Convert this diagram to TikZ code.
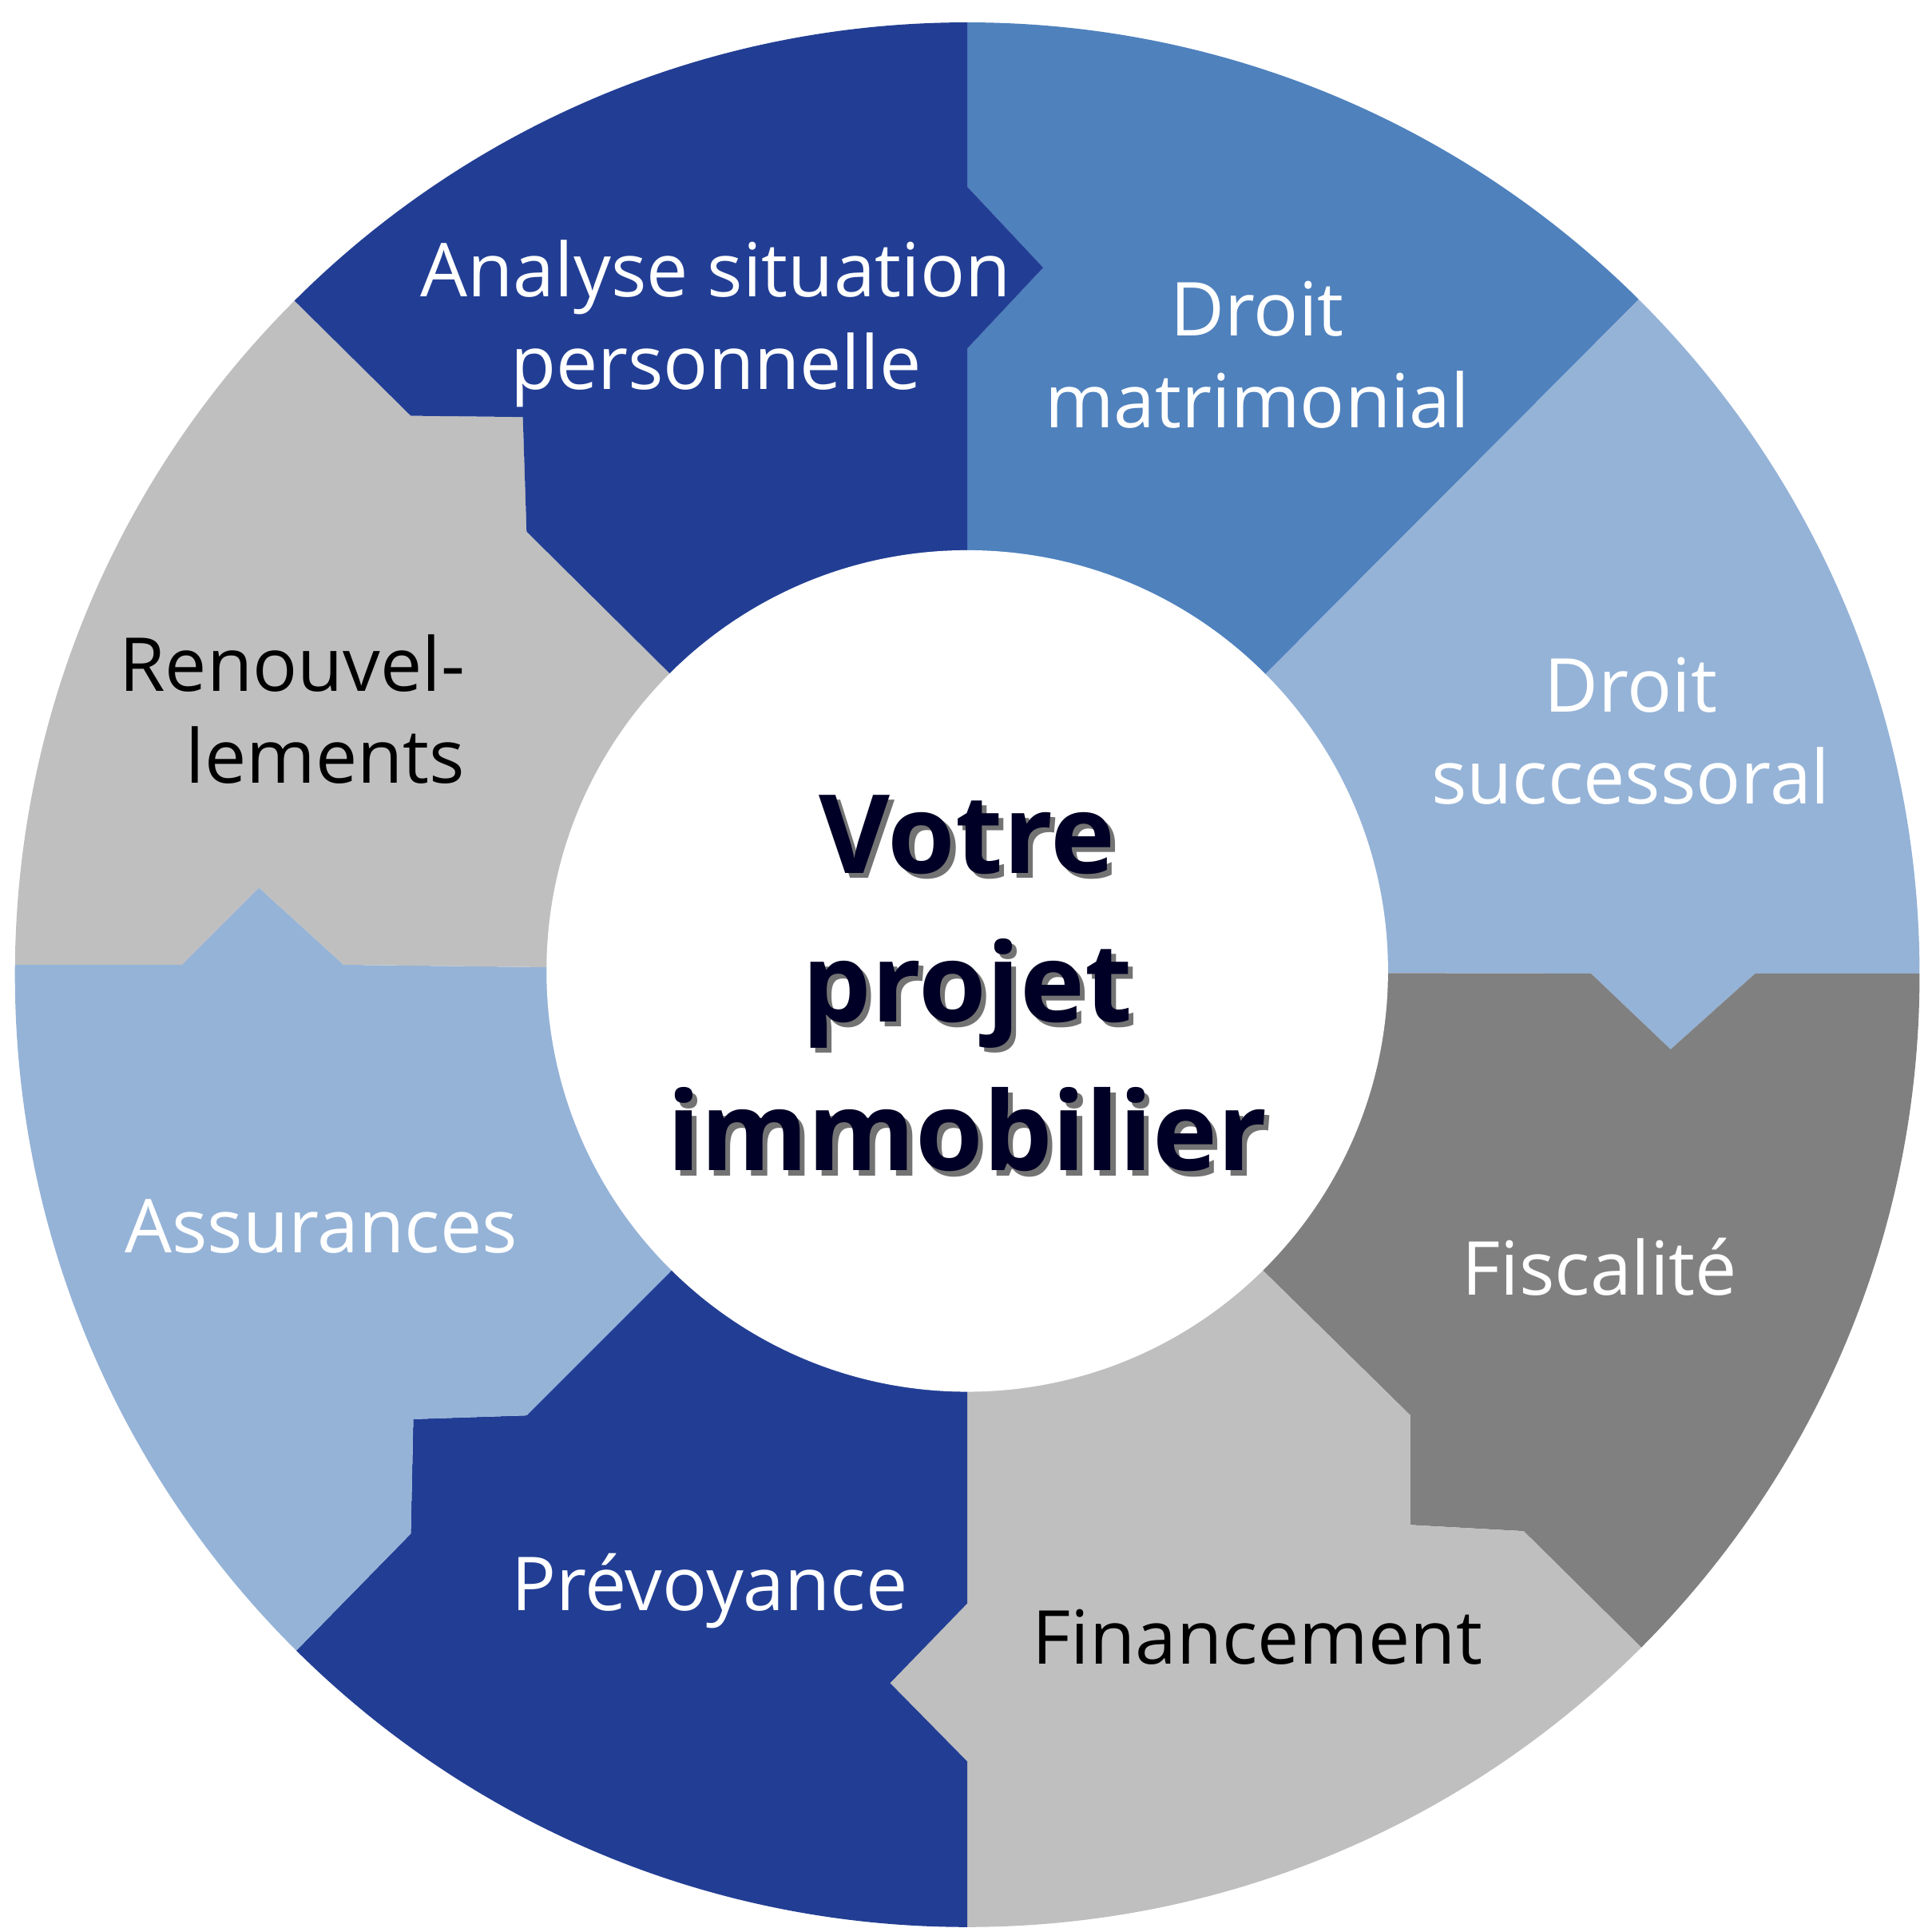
\documentclass[tikz,border=0pt]{standalone}
\usepackage{fontspec}
\setmainfont{Open Sans}
\definecolor{dblue}{HTML}{223E94}
\definecolor{mblue}{HTML}{4F81BD}
\definecolor{lblue}{HTML}{95B3D7}
\definecolor{dgray}{HTML}{808080}
\definecolor{lgray}{HTML}{BFBFBF}
\begin{document}
\begin{tikzpicture}[x=0.01cm,y=-0.01cm,
  lab/.style={font=\fontsize{17}{21}\selectfont,align=center,text=white},
  labk/.style={lab,text=black}]
\useasboundingbox (0,0) rectangle (1552,1552);
\coordinate (C) at (777,781);
\begin{scope}
\clip (777,783) circle[radius=765];
% 45-90
\fill[mblue] (C) -- (1017,541) -- (1315,242) -- (1577,-19) -- (1351,-605) -- (777,-300) -- (777,150) -- (838,215) -- (777,280) -- cycle;
% 0-45
\fill[lblue] (C) -- (1278,782) -- (1342,843) -- (1410,782) -- (1900,782) -- (2163,207) -- (1577,-19) -- (1315,242) -- (1017,541) -- cycle;
% -45-0
\fill[dgray] (C) -- (1017,1023) -- (1133,1137) -- (1133,1225) -- (1224,1230) -- (1318,1323) -- (1577,1582) -- (2163,1355) -- (1900,782) -- (1410,782) -- (1342,843) -- (1278,782) -- cycle;
% -90--45
\fill[lgray] (C) -- (777,1288) -- (715,1352) -- (777,1415) -- (777,1900) -- (1351,2167) -- (1577,1582) -- (1318,1323) -- (1224,1230) -- (1133,1225) -- (1133,1137) -- (1017,1023) -- cycle;
% -135--90
\fill[dblue] (C) -- (538,1022) -- (423,1137) -- (332,1140) -- (330,1232) -- (237,1327) -- (-23,1587) -- (203,2167) -- (777,1900) -- (777,1415) -- (715,1352) -- (777,1288) -- cycle;
% 180-225
\fill[lblue] (C) -- (276,775) -- (208,713) -- (146,775) -- (-350,775) -- (-609,1355) -- (-23,1587) -- (237,1327) -- (330,1232) -- (332,1140) -- (423,1137) -- (538,1022) -- cycle;
% 135-180
\fill[lgray] (C) -- (538,541) -- (423,427) -- (420,335) -- (330,334) -- (237,242) -- (-23,-19) -- (-609,207) -- (-350,775) -- (146,775) -- (208,713) -- (276,775) -- cycle;
% 90-135
\fill[dblue] (C) -- (777,280) -- (838,215) -- (777,150) -- (777,-300) -- (203,-605) -- (-23,-19) -- (237,242) -- (330,334) -- (420,335) -- (423,427) -- (538,541) -- cycle;
\end{scope}
\fill[white] (777,780) circle[radius=338];
\node[lab] (a) at (575,260) {Analyse situation\\personnelle};
\node[lab] (b) at (1010,285) {Droit\\matrimonial};
\node[lab] (c) at (1310,587) {Droit\\successoral};
\node[lab] (d) at (1285,1018) {Fiscalité};
\node[labk] (e) at (1010,1315) {Financement};
\node[lab] (f) at (570,1278) {Prévoyance};
\node[lab] (g) at (258,985) {Assurances};
\node[labk,align=right,anchor=east] (h) at (386,570) {Renouvel-\\lements};
\node[font=\bfseries\fontsize{25}{34}\selectfont,align=center,text=black!55] (s) at (781,794) {Votre\\projet\\immobilier};
\node[font=\bfseries\fontsize{25}{34}\selectfont,align=center,text=black!85!blue] (m) at (777,790) {Votre\\projet\\immobilier};
\end{tikzpicture}
\end{document}
